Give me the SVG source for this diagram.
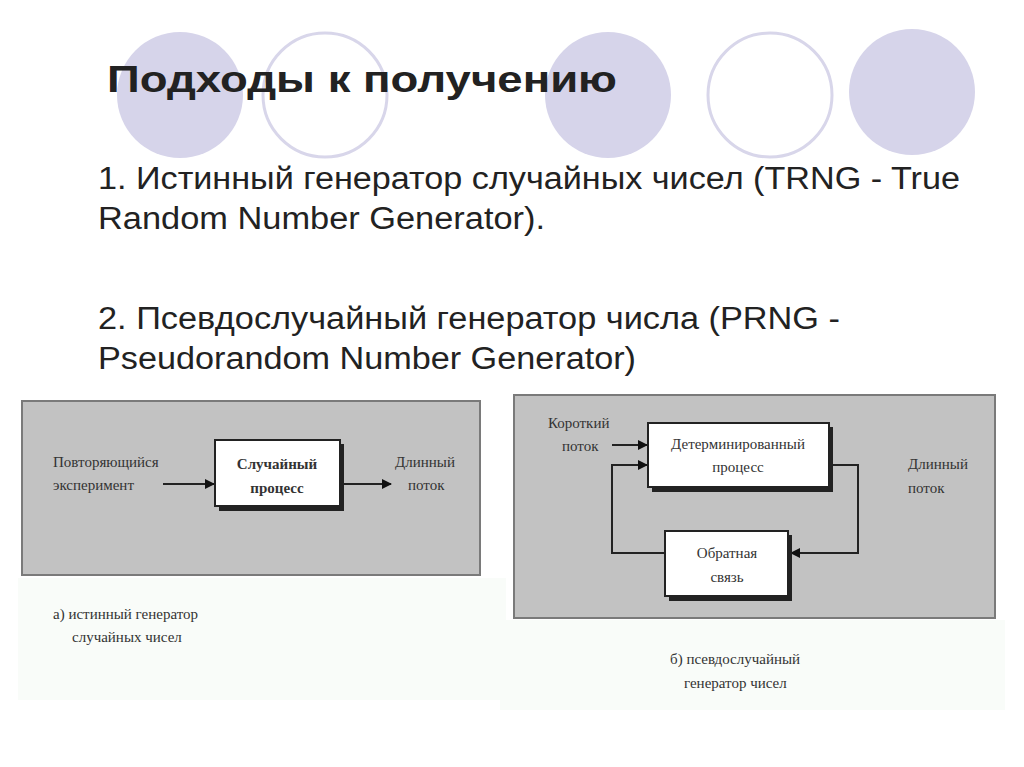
<svg xmlns="http://www.w3.org/2000/svg" width="1024" height="767" viewBox="0 0 1024 767">
<defs>
<style>
.c{fill:#d6d4ea}.o{fill:none;stroke:#d8d6ea;stroke-width:3}
.t{font-family:"Liberation Sans",Arial,sans-serif;fill:#222}
.s{font-family:"Liberation Serif","Times New Roman",serif;font-size:15px;fill:#333}
.panel{fill:#c2c2c2;stroke:#7a7a7a;stroke-width:2}
.box{fill:#fff;stroke:#222;stroke-width:2}
.sh{fill:#222}
.ln{fill:none;stroke:#222;stroke-width:2}
</style>
<marker id="a" markerWidth="10" markerHeight="10" refX="9" refY="5" orient="auto" markerUnits="userSpaceOnUse"><path d="M0,0 L10,5 L0,10 z" fill="#111"/></marker>
</defs>
<rect width="1024" height="767" fill="#fff"/>
<circle class="c" cx="180" cy="95" r="63"/>
<circle class="o" cx="325" cy="95" r="62"/>
<circle class="c" cx="608" cy="95" r="63"/>
<circle class="o" cx="770" cy="95" r="62"/>
<circle class="c" cx="912" cy="92" r="63"/>
<text class="t" x="107" y="92" font-size="37" font-weight="bold" textLength="510" lengthAdjust="spacingAndGlyphs">Подходы к получению</text>
<g class="t" font-size="31">
<text x="98" y="189" textLength="862" lengthAdjust="spacingAndGlyphs">1. Истинный генератор случайных чисел (TRNG - True</text>
<text x="98" y="229" textLength="447" lengthAdjust="spacingAndGlyphs">Random Number Generator).</text>
<text x="98" y="329" textLength="742" lengthAdjust="spacingAndGlyphs">2. Псевдослучайный генератор числа (PRNG -</text>
<text x="98" y="369" textLength="538" lengthAdjust="spacingAndGlyphs">Pseudorandom Number Generator)</text>
</g>
<rect x="18" y="578" width="488" height="122" fill="#f9fcf9"/>
<rect x="500" y="620" width="505" height="90" fill="#f9fcf9"/>
<rect class="panel" x="22" y="401" width="458" height="174"/>
<rect class="panel" x="514" y="395" width="481" height="223"/>
<g id="connectors">
<line class="ln" x1="163" y1="484" x2="214" y2="484" marker-end="url(#a)"/>
<line class="ln" x1="343" y1="484" x2="391" y2="484" marker-end="url(#a)"/>
<line class="ln" x1="612" y1="445" x2="647" y2="445" marker-end="url(#a)"/>
<polyline class="ln" points="832,465 858,465 858,553 791,553" marker-end="url(#a)"/>
<polyline class="ln" points="665,553 612,553 612,465 647,465" marker-end="url(#a)"/>
</g>
<g id="n-random">
<rect class="sh" x="219" y="444" width="125" height="67"/>
<rect class="box" x="215" y="440" width="125" height="66"/>
<text class="s" font-size="16" font-weight="bold" text-anchor="middle"><tspan x="277" y="469">Случайный</tspan><tspan x="277" y="493">процесс</tspan></text>
</g>
<g id="n-det">
<rect class="sh" x="652" y="427" width="181" height="65"/>
<rect class="box" x="648" y="423" width="181" height="64"/>
<text class="s" text-anchor="middle"><tspan x="738" y="449">Детерминированный</tspan><tspan x="738" y="472">процесс</tspan></text>
</g>
<g id="n-fb">
<rect class="sh" x="669" y="535" width="123" height="66"/>
<rect class="box" x="665" y="531" width="123" height="65"/>
<text class="s" text-anchor="middle"><tspan x="727" y="558">Обратная</tspan><tspan x="727" y="582">связь</tspan></text>
</g>
<g id="labels">
<text class="s"><tspan x="53" y="467">Повторяющийся</tspan><tspan x="53" y="490">эксперимент</tspan></text>
<text class="s"><tspan x="395" y="467">Длинный</tspan><tspan x="408" y="490">поток</tspan></text>
<text class="s"><tspan x="548" y="428">Короткий</tspan><tspan x="562" y="451">поток</tspan></text>
<text class="s"><tspan x="908" y="469">Длинный</tspan><tspan x="908" y="493">поток</tspan></text>
<text class="s"><tspan x="53" y="619">а) истинный генератор</tspan><tspan x="72" y="642">случайных чисел</tspan></text>
<text class="s"><tspan x="670" y="664">б) псевдослучайный</tspan><tspan x="684" y="688">генератор чисел</tspan></text>
</g>
</svg>
